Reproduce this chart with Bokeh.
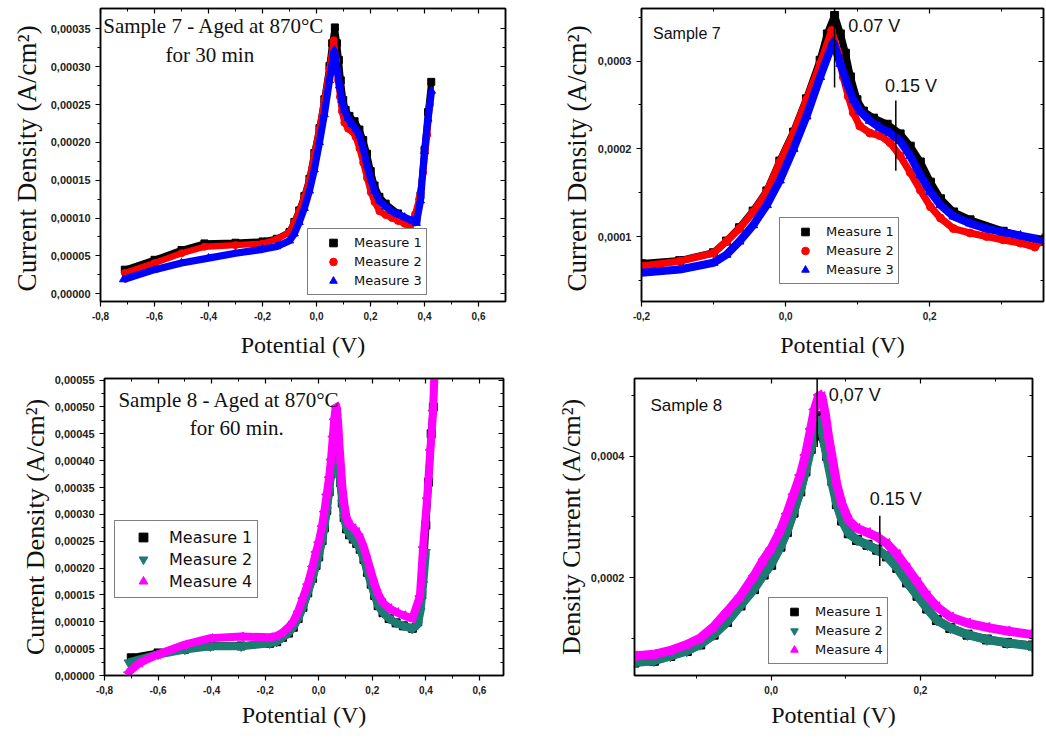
import math
from bokeh.plotting import figure
from bokeh.models import (Range1d, FixedTicker, CustomJSTickFormatter, LinearAxis,
                          Legend, LegendItem, Label)
from bokeh.layouts import row, column
from bokeh.embed import file_html
from bokeh.resources import INLINE

# ---------------- Sample 7 (aged 870 °C, 30 min) ----------------
s7_m1_x = [-0.71, -0.6, -0.5, -0.415, -0.3, -0.2, -0.147, -0.1, -0.082, -0.064, -0.045, -0.026,
           -0.008, 0.011, 0.029, 0.048, 0.058, 0.068, 0.076, 0.083, 0.09, 0.099, 0.108, 0.122,
           0.141, 0.159, 0.173, 0.187, 0.201, 0.215, 0.233, 0.256, 0.302, 0.356, 0.37, 0.385,
           0.40, 0.413, 0.425]
s7_m1_y = [0.0000317, 0.0000447, 0.0000577, 0.0000664, 0.0000673, 0.000069, 0.0000725, 0.0000815,
           0.0000948, 0.00011, 0.000129, 0.000152, 0.000186, 0.000219, 0.000257, 0.000301,
           0.000331, 0.000352, 0.000331, 0.000309, 0.000282, 0.000256, 0.000243, 0.000235,
           0.000228, 0.000217, 0.000203, 0.000185, 0.000162, 0.000143, 0.000128, 0.000119,
           0.000106, 0.0000944, 0.000097, 0.00013, 0.00019, 0.00024, 0.00028]

s7_m2_x = [-0.71, -0.6, -0.5, -0.415, -0.3, -0.2, -0.147, -0.1, -0.082, -0.064, -0.045, -0.026,
           -0.008, 0.011, 0.029, 0.048, 0.064, 0.073, 0.08, 0.087, 0.094, 0.103, 0.117, 0.131,
           0.145, 0.159, 0.173, 0.187, 0.201, 0.215, 0.233, 0.256, 0.279, 0.302, 0.326, 0.346,
           0.365, 0.38, 0.395, 0.41, 0.42]
s7_m2_y = [0.0000273, 0.0000404, 0.0000534, 0.000062, 0.0000642, 0.0000662, 0.0000718, 0.0000812,
           0.0000944, 0.000109, 0.000128, 0.000151, 0.000185, 0.000218, 0.000256, 0.000297,
           0.000335, 0.000309, 0.000282, 0.00026, 0.000241, 0.000226, 0.000218, 0.000215,
           0.000207, 0.000192, 0.000173, 0.000153, 0.000134, 0.000121, 0.000109, 0.000104,
           0.0001, 0.0000962, 0.0000925, 0.000088, 0.000105, 0.000125, 0.00016, 0.00021, 0.00025]

s7_m3_x = [-0.715, -0.6, -0.5, -0.4, -0.3, -0.2, -0.147, -0.1, -0.082, -0.064, -0.045, -0.026,
           -0.008, 0.011, 0.029, 0.048, 0.066, 0.076, 0.085, 0.094, 0.103, 0.117, 0.131, 0.145,
           0.159, 0.173, 0.187, 0.201, 0.215, 0.233, 0.256, 0.279, 0.302, 0.326, 0.356, 0.37,
           0.385, 0.40, 0.413, 0.426]
s7_m3_y = [0.0000187, 0.0000317, 0.0000404, 0.0000469, 0.0000534, 0.0000586, 0.0000624, 0.00007,
           0.0000793, 0.0000944, 0.000113, 0.000136, 0.000164, 0.0002, 0.000237, 0.000282,
           0.000322, 0.000297, 0.000275, 0.000256, 0.000243, 0.000232, 0.000224, 0.000218,
           0.000209, 0.000192, 0.00017, 0.000151, 0.000136, 0.000123, 0.000115, 0.000109,
           0.000105, 0.000101, 0.0000962, 0.0000933, 0.000123, 0.000188, 0.000231, 0.000268]

# ---------------- Sample 8 (aged 870 °C, 60 min) ----------------
s8_m1_x = [-0.70, -0.6, -0.5, -0.405, -0.29, -0.183, -0.157, -0.135, -0.113, -0.095, -0.077,
           -0.059, -0.041, -0.023, -0.01, 0.0, 0.0125, 0.021, 0.03, 0.039, 0.046, 0.053, 0.058,
           0.062, 0.068, 0.075, 0.082, 0.088, 0.095, 0.104, 0.115, 0.129, 0.142, 0.155, 0.169,
           0.182, 0.196, 0.209, 0.222, 0.24, 0.263, 0.289, 0.316, 0.35, 0.37, 0.385, 0.40, 0.41,
           0.42, 0.428]
s8_m1_y = [0.000033, 0.000042, 0.000049, 0.000055, 0.000055, 0.00006, 0.0000629, 0.000071,
           0.000079, 0.0000898, 0.000106, 0.000127, 0.000154, 0.000181, 0.000205, 0.000221,
           0.000251, 0.000275, 0.000307, 0.000342, 0.000375, 0.000412, 0.000445, 0.000466,
           0.000434, 0.0004, 0.000359, 0.000321, 0.000294, 0.000273, 0.000262, 0.000254,
           0.000246, 0.000235, 0.000216, 0.000192, 0.00017, 0.000149, 0.00013, 0.000117,
           0.000106, 0.000098, 0.0000925, 0.000088, 0.0001, 0.00015, 0.00028, 0.00036, 0.00045,
           0.0005]

s8_m2_x = [-0.71, -0.6, -0.5, -0.405, -0.29, -0.183, -0.157, -0.135, -0.113, -0.095, -0.077,
           -0.059, -0.041, -0.023, -0.01, 0.0, 0.0125, 0.021, 0.03, 0.039, 0.046, 0.053, 0.058,
           0.0616, 0.066, 0.0705, 0.075, 0.082, 0.088, 0.095, 0.104, 0.115, 0.129, 0.142, 0.155,
           0.169, 0.182, 0.196, 0.209, 0.222, 0.24, 0.263, 0.289, 0.316, 0.349, 0.37, 0.38,
           0.39, 0.40]
s8_m2_y = [0.0000242, 0.0000393, 0.0000484, 0.0000544, 0.0000544, 0.00006, 0.0000629, 0.000071,
           0.000079, 0.0000898, 0.000106, 0.000127, 0.000154, 0.000181, 0.000205, 0.000222,
           0.000251, 0.000275, 0.000308, 0.000343, 0.000375, 0.000412, 0.000445, 0.000461,
           0.000455, 0.000428, 0.000396, 0.000353, 0.000321, 0.000294, 0.000273, 0.000262,
           0.000254, 0.000246, 0.000235, 0.000216, 0.000192, 0.00017, 0.000149, 0.00013,
           0.000117, 0.000106, 0.0000979, 0.0000925, 0.0000871, 0.000095, 0.00012, 0.00017,
           0.00023]

s8_m4_x = [-0.71, -0.667, -0.6, -0.5, -0.405, -0.29, -0.183, -0.157, -0.135, -0.113, -0.095,
           -0.077, -0.059, -0.041, -0.023, -0.01, 0.0, 0.0125, 0.021, 0.03, 0.039, 0.046, 0.053,
           0.058, 0.064, 0.068, 0.073, 0.077, 0.082, 0.088, 0.095, 0.104, 0.115, 0.129, 0.142,
           0.155, 0.169, 0.182, 0.196, 0.209, 0.222, 0.24, 0.263, 0.289, 0.316, 0.35, 0.378,
           0.39, 0.405, 0.417, 0.427, 0.432]
s8_m4_y = [0.000006, 0.0000242, 0.0000393, 0.0000574, 0.0000695, 0.0000726, 0.000071, 0.0000737,
           0.0000801, 0.0000898, 0.0001005, 0.000119, 0.000144, 0.00017, 0.000203, 0.00023,
           0.000248, 0.000278, 0.000305, 0.000337, 0.000369, 0.000402, 0.000445, 0.000477,
           0.000501, 0.000498, 0.000466, 0.000431, 0.000396, 0.000353, 0.000321, 0.000294,
           0.000281, 0.000274, 0.000267, 0.000256, 0.000238, 0.000216, 0.000192, 0.00017,
           0.000152, 0.000135, 0.000125, 0.000118, 0.000112, 0.000106, 0.000148, 0.000239,
           0.00033, 0.00042, 0.000493, 0.00056]

# tick values
wide_x_ticks = [-0.8, -0.6, -0.4, -0.2, 0.0, 0.2, 0.4, 0.6]
wide_x_minor = [-0.7, -0.5, -0.3, -0.1, 0.1, 0.3, 0.5]
p1_y_ticks = [0.0, 0.00005, 0.0001, 0.00015, 0.0002, 0.00025, 0.0003, 0.00035]
p1_y_minor = [0.000025, 0.000075, 0.000125, 0.000175, 0.000225, 0.000275, 0.000325]
p2_x_ticks = [-0.2, 0.0, 0.2]
p2_x_minor = [-0.1, 0.1, 0.3]
p2_y_ticks = [0.0001, 0.0002, 0.0003]
p2_y_minor = [0.00005, 0.00015, 0.00025, 0.00035]
p3_y_ticks = [0.0, 0.00005, 0.0001, 0.00015, 0.0002, 0.00025, 0.0003, 0.00035, 0.0004,
              0.00045, 0.0005, 0.00055]
p3_y_minor = [0.000025, 0.000075, 0.000125, 0.000175, 0.000225, 0.000275, 0.000325,
              0.000375, 0.000425, 0.000475, 0.000525]
p4_x_ticks = [0.0, 0.2]
p4_x_minor = [-0.1, 0.1, 0.3]
p4_y_ticks = [0.0002, 0.0004]
p4_y_minor = [0.0001, 0.0003, 0.0005]

labels_7 = ["Measure 1", "Measure 2", "Measure 3"]
labels_8 = ["Measure 1", "Measure 2", "Measure 4"]

BLACK = "#000000"
RED = "#FF0000"
BLUE = "#0000FF"
TEAL = "#1E7B72"
MAGENTA = "#FF00FF"


def make_fig(w, h, bl, br, bt, bb, xr, yr, xt, xm, yt, ym, xdec, ydec,
             ylabel, y_std, x_std, ylab_size="27px", ytick_size="11px"):
    p = figure(width=w, height=h, output_backend="svg", toolbar_location=None,
               x_range=Range1d(*xr), y_range=Range1d(*yr),
               x_axis_type=None, y_axis_type=None,
               min_border_left=bl, min_border_right=br, min_border_top=bt, min_border_bottom=bb)
    p.xgrid.visible = False
    p.ygrid.visible = False
    p.outline_line_color = "black"
    p.outline_line_width = 1.5
    p.background_fill_color = "white"
    p.border_fill_color = "white"

    fx = CustomJSTickFormatter(code="return tick.toFixed(%d).replace('.', ',');" % xdec)
    fy = CustomJSTickFormatter(code="return tick.toFixed(%d).replace('.', ',');" % ydec)
    blank = CustomJSTickFormatter(code="return '';")

    def style(ax, visible_labels):
        ax.axis_line_color = "black"
        ax.axis_line_width = 1.5
        ax.major_tick_line_width = 1.2
        ax.minor_tick_line_width = 1.0
        if visible_labels:
            ax.major_tick_out = 5
            ax.major_tick_in = 0
            ax.minor_tick_out = 3
            ax.minor_tick_in = 0
            ax.major_label_text_font = "Liberation Sans"
            ax.major_label_text_font_style = "bold"
            ax.major_label_text_color = "#222222"
            ax.axis_label_text_font = "Liberation Serif"
            ax.axis_label_text_font_style = "normal"
            ax.axis_label_text_color = "#111111"
        else:
            ax.major_tick_out = 0
            ax.major_tick_in = 5
            ax.minor_tick_out = 0
            ax.minor_tick_in = 3
            ax.major_label_standoff = 0

    xb = LinearAxis(ticker=FixedTicker(ticks=xt, minor_ticks=xm), formatter=fx,
                    axis_label="Potential (V)")
    style(xb, True)
    xb.major_label_text_font_size = "10px"
    xb.major_label_standoff = 5
    xb.axis_label_text_font_size = "24px"
    xb.axis_label_standoff = x_std
    p.add_layout(xb, "below")

    yl = LinearAxis(ticker=FixedTicker(ticks=yt, minor_ticks=ym), formatter=fy,
                    axis_label=ylabel)
    style(yl, True)
    yl.major_label_text_font_size = ytick_size
    yl.major_label_standoff = 5
    yl.axis_label_text_font_size = ylab_size
    yl.axis_label_standoff = y_std
    p.add_layout(yl, "left")

    xa = LinearAxis(ticker=FixedTicker(ticks=xt, minor_ticks=xm), formatter=blank)
    style(xa, False)
    p.add_layout(xa, "above")
    yr_ax = LinearAxis(ticker=FixedTicker(ticks=yt, minor_ticks=ym), formatter=blank)
    style(yr_ax, False)
    p.add_layout(yr_ax, "right")
    return p


def add_series(p, xs, ys, color, marker, size, angle=0.0):
    p.line(xs, ys, line_color=color, line_width=size * 0.9)
    r = p.scatter(xs, ys, marker=marker, size=size, fill_color=color, line_color=color,
                  angle=angle)
    return r


def add_legend(p, items, loc, font_size, padding, gw, ls, gh, spacing):
    leg = Legend(items=[LegendItem(label=l, renderers=[r]) for l, r in items],
                 location=loc, margin=0, padding=padding, spacing=spacing,
                 glyph_width=gw, glyph_height=gh, label_height=gh, label_standoff=ls,
                 label_text_font="DejaVu Sans", label_text_font_size=font_size,
                 label_text_color="#111111",
                 border_line_color="black", border_line_width=1.5,
                 background_fill_color="white", background_fill_alpha=1.0)
    p.add_layout(leg)


def add_text(p, x, y, txt, font, size, align="left", color="#111111"):
    p.add_layout(Label(x=x, y=y, text=txt, text_font=font, text_font_size=size,
                       text_align=align, text_baseline="middle", text_color=color))


# ---------------- Panel 1 ----------------
p1 = make_fig(520, 360, 100, 15, 5, 58, (-0.8, 0.7), (-0.0000104, 0.000377),
              wide_x_ticks, wide_x_minor, p1_y_ticks, p1_y_minor, 1, 5,
              "Current Density  (A/cm²)", 6, 9)
r11 = add_series(p1, s7_m1_x, s7_m1_y, BLACK, "square", 7)
r12 = add_series(p1, s7_m2_x, s7_m2_y, RED, "circle", 7)
r13 = add_series(p1, s7_m3_x, s7_m3_y, BLUE, "triangle", 8)
add_legend(p1, list(zip(labels_7, [r11, r12, r13])), (207, 6), "13px", 4, 42, 0, 19, 0)
add_text(p1, -0.79, 0.000354, "Sample 7 - Aged at 870°C", "Liberation Serif", "21px")
add_text(p1, -0.395, 0.000316, "for 30 min", "Liberation Serif", "21px", align="center")

# ---------------- Panel 2 ----------------
p2 = make_fig(526, 360, 121, 3, 8, 56, (-0.2, 0.358), (0.0000259, 0.00036),
              p2_x_ticks, p2_x_minor, p2_y_ticks, p2_y_minor, 1, 4,
              "Current Density  (A/cm²)", 3, 9)
r21 = add_series(p2, s7_m1_x, s7_m1_y, BLACK, "square", 8)
r22 = add_series(p2, s7_m2_x, s7_m2_y, RED, "circle", 8)
r23 = add_series(p2, s7_m3_x, s7_m3_y, BLUE, "triangle", 9)
add_legend(p2, list(zip(labels_7, [r21, r22, r23])), (138, 17), "13px", 4, 42, 0, 19, 0)
p2.segment(x0=[0.068], y0=[0.00027], x1=[0.068], y1=[0.00036], line_color="black", line_width=1.5)
p2.segment(x0=[0.153], y0=[0.000175], x1=[0.153], y1=[0.000255], line_color="black", line_width=1.5)
add_text(p2, -0.184, 0.000332, "Sample 7", "Liberation Sans", "16px")
add_text(p2, 0.087, 0.00034, "0.07 V", "Liberation Sans", "18px")
add_text(p2, 0.138, 0.000272, "0.15 V", "Liberation Sans", "18px")

# ---------------- Panel 3 ----------------
p3 = make_fig(520, 380, 104, 17, 10, 65, (-0.8, 0.69), (0.0, 0.000553),
              wide_x_ticks, wide_x_minor, p3_y_ticks, p3_y_minor, 1, 5,
              "Current Density (A/cm²)", 2, 5, ylab_size="26px")
r31 = add_series(p3, s8_m1_x, s8_m1_y, BLACK, "square", 8)
r32 = add_series(p3, s8_m2_x, s8_m2_y, TEAL, "inverted_triangle", 9)
r34 = add_series(p3, s8_m4_x, s8_m4_y, MAGENTA, "triangle", 9, angle=math.pi / 2)
add_legend(p3, list(zip(labels_8, [r31, r32, r34])), (10, 77), "16px", 5, 46, 3, 22, 0)
add_text(p3, -0.748, 0.000513, "Sample 8 - Aged at 870°C", "Liberation Serif", "21px")
add_text(p3, -0.306, 0.00046, "for 60 min.", "Liberation Serif", "21px", align="center")

# ---------------- Panel 4 ----------------
p4 = make_fig(526, 380, 114, 14, 18, 58, (-0.183, 0.35), (0.0000387, 0.000528),
              p4_x_ticks, p4_x_minor, p4_y_ticks, p4_y_minor, 1, 4,
              "Density Current (A/cm²)", 2, 5, ylab_size="26px")
r41 = add_series(p4, s8_m1_x, s8_m1_y, BLACK, "square", 9)
r42 = add_series(p4, s8_m2_x, s8_m2_y, TEAL, "inverted_triangle", 10)
r44 = add_series(p4, s8_m4_x, s8_m4_y, MAGENTA, "triangle", 10, angle=math.pi / 2)
add_legend(p4, list(zip(labels_8, [r41, r42, r44])), (134, 11), "13px", 4, 42, 0, 19, 0)
p4.segment(x0=[0.0616], y0=[0.000415], x1=[0.0616], y1=[0.000528], line_color="black", line_width=1.5)
p4.segment(x0=[0.1455], y0=[0.000219], x1=[0.1455], y1=[0.000302], line_color="black", line_width=1.5)
add_text(p4, -0.1616, 0.000484, "Sample 8", "Liberation Sans", "17px")
add_text(p4, 0.0772, 0.000501, "0,07 V", "Liberation Sans", "18px")
add_text(p4, 0.132, 0.000329, "0.15 V", "Liberation Sans", "18px")

layout = column(row(p1, p2), row(p3, p4))
open("out.html", "w").write(file_html(layout, INLINE))
